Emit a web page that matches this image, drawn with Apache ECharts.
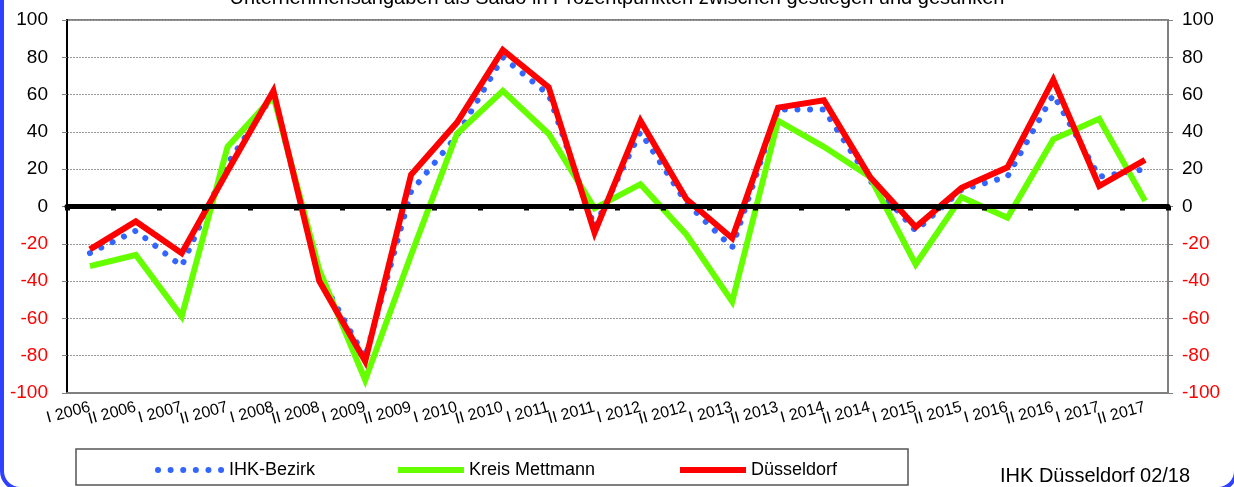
<!DOCTYPE html>
<html>
<head>
<meta charset="utf-8">
<script src="https://cdn.jsdelivr.net/npm/echarts@6/dist/echarts.min.js"></script>
<style>
html,body{margin:0;padding:0;background:#fff;}
#chart{width:1234px;height:487px;}
</style>
</head>
<body>
<div id="chart"></div>
<script>
var categories = ['I 2006','II 2006','I 2007','II 2007','I 2008','II 2008','I 2009','II 2009','I 2010','II 2010','I 2011','II 2011',
                  'I 2012','II 2012','I 2013','II 2013','I 2014','II 2014','I 2015','II 2015','I 2016','II 2016','I 2017','II 2017'];
var ihkBezirk   = [-25, -13, -32, 23, 60, -37, -81, 8, 38, 80, 60, -11, 40, 2, -22, 52, 52, 14, -13, 9, 16, 60, 16, 20];
var kreisMettmann = [-32, -26, -59, 32, 59, -34, -93, -26, 39, 62, 39, -1, 12, -15, -51, 46, 32, 16, -31, 5, -6, 36, 47, 3];
var duesseldorf = [-23, -8, -25, 19, 62, -40, -83, 17, 45, 84, 64, -14, 46, 4, -17, 53, 57, 16, -11, 10, 21, 68, 11, 25];
var yTicks = { min: -100, max: 100, interval: 20 };
var titleText = 'Unternehmensangaben als Saldo in Prozentpunkten zwischen gestiegen und gesunken';
var sourceText = 'IHK Düsseldorf 02/18';

var FONT = '"Liberation Sans", Arial, sans-serif';
var chart = echarts.init(document.getElementById('chart'), null, {renderer: 'canvas'});

function labelColor(v) { return Number(v) < 0 ? '#ff0000' : '#000000'; }

function makeLegend(name, left, lineStyle) {
  return {
    data: [name], left: left, top: 456, itemWidth: 66, itemHeight: 16, itemGap: 0,
    itemStyle: { opacity: 0 },
    lineStyle: lineStyle,
    textStyle: { fontSize: 18, fontFamily: FONT, color: '#000' }
  };
}

var option = {
  backgroundColor: '#ffffff',
  animation: false,
  title: {
    text: titleText, left: 'center', top: -17,
    textStyle: { fontSize: 20, fontWeight: 'normal', fontFamily: FONT, color: '#000' }
  },
  grid: { left: 67, right: 66, top: 20, bottom: 94, show: true, borderColor: '#808080', borderWidth: 2, backgroundColor: '#ffffff' },
  legend: [
    makeLegend('IHK-Bezirk', 150, { width: 6, color: '#3366ff', type: [0.01, 12.6], cap: 'round' }),
    makeLegend('Kreis Mettmann', 390, { width: 6, color: '#66ff00', type: 'solid' }),
    makeLegend('Düsseldorf', 672, { width: 6, color: '#ff0000', type: 'solid' })
  ],
  xAxis: [
    {
      type: 'category', data: categories, boundaryGap: true, position: 'bottom',
      axisLine: { show: true, onZero: false, lineStyle: { color: '#808080', width: 2 } },
      axisTick: { show: false },
      axisLabel: { rotate: 15, fontSize: 16, fontFamily: FONT, color: '#000', margin: 14, interval: 0 },
      splitLine: { show: false }
    },
    {
      type: 'category', data: categories, boundaryGap: true, position: 'bottom',
      axisLine: { show: true, onZero: true, lineStyle: { color: '#000000', width: 5 } },
      axisTick: { show: true, interval: 0, length: 4, inside: false, lineStyle: { color: '#000', width: 5 } },
      axisLabel: { show: false },
      splitLine: { show: false },
      z: 5
    }
  ],
  yAxis: [
    {
      type: 'value', min: yTicks.min, max: yTicks.max, interval: yTicks.interval, position: 'left',
      axisLabel: { fontSize: 19, fontFamily: FONT, color: labelColor, margin: 19 },
      axisTick: { show: true, length: 5, lineStyle: { color: '#808080', width: 1 } },
      axisLine: { show: true, onZero: false, lineStyle: { color: '#000000', width: 2 } },
      splitLine: { show: true, lineStyle: { color: '#9a9a9a', width: 1, type: [2, 1] } }
    },
    {
      type: 'value', min: yTicks.min, max: yTicks.max, interval: yTicks.interval, position: 'right',
      axisLabel: { fontSize: 19, fontFamily: FONT, color: labelColor, margin: 14 },
      axisTick: { show: true, length: 5, lineStyle: { color: '#808080', width: 1 } },
      axisLine: { show: true, onZero: false, lineStyle: { color: '#808080', width: 2 } },
      splitLine: { show: false }
    }
  ],
  series: [
    {
      name: 'IHK-Bezirk', type: 'line', data: ihkBezirk, symbol: 'none', z: 2,
      lineStyle: { color: '#3366ff', width: 6, type: [0.01, 12.6], cap: 'round' },
      itemStyle: { color: '#3366ff' }
    },
    {
      name: 'Kreis Mettmann', type: 'line', data: kreisMettmann, symbol: 'none', z: 3,
      lineStyle: { color: '#66ff00', width: 6, join: 'miter' },
      itemStyle: { color: '#66ff00' }
    },
    {
      name: 'Düsseldorf', type: 'line', data: duesseldorf, symbol: 'none', z: 4,
      lineStyle: { color: '#ff0000', width: 6, join: 'miter' },
      itemStyle: { color: '#ff0000' }
    }
  ],
  graphic: [
    { type: 'rect', z: -1, silent: true, shape: { x: 76, y: 449, width: 832, height: 36 },
      style: { fill: 'none', stroke: '#555555', lineWidth: 1.5 } },
    { type: 'text', left: 1000, top: 466, silent: true,
      style: { text: sourceText, fontSize: 20, fontFamily: FONT, fill: '#000' } },
    { type: 'rect', z: 100, silent: true, shape: { x: 2, y: -40, width: 1234, height: 529, r: 18 },
      style: { fill: 'none', stroke: '#3040ff', lineWidth: 4 } }
  ]
};
chart.setOption(option);
</script>
</body>
</html>
